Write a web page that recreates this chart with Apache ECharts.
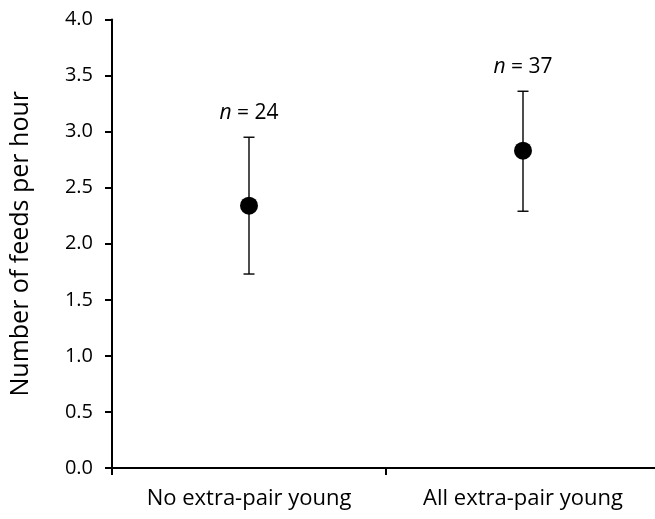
<!DOCTYPE html>
<head>
    <meta charset="utf-8">
    <title>ECharts</title>
    <style>
    html,body { height:100%; width:100%; margin:0; background:white; padding:0; }
    #main { width:655px; height:519px; }
    </style>
</head>
<body>
    <div id="main"></div>
    <script src="https://cdn.jsdelivr.net/npm/echarts@6/dist/echarts.min.js"></script>
    <script type="text/javascript">
    // data
    var categories = ['No extra-pair young', 'All extra-pair young'];
    var means = [2.34, 2.83];
    var lower = [1.73, 2.29];
    var upper = [2.95, 3.36];
    var sampleSizes = [24, 37];
    var yTicks = [0, 0.5, 1, 1.5, 2, 2.5, 3, 3.5, 4];

    var font = '"Open Sans", "Liberation Sans", sans-serif';

    var errData = [];
    for (var i = 0; i < categories.length; i++) {
        errData.push([i, lower[i], upper[i], sampleSizes[i]]);
    }

    var myChart = echarts.init(document.getElementById('main'));

    var option = {
        animation: false,
        grid: { left: 112, width: 548, top: 19.5, height: 448.5, outerBoundsMode: 'none' },
        xAxis: {
            type: 'category',
            data: categories,
            boundaryGap: true,
            axisLine: { lineStyle: { color: '#000', width: 2 } },
            axisTick: { show: true, length: 7, lineStyle: { color: '#000', width: 2 } },
            axisLabel: { color: '#000', fontSize: 22, fontFamily: font, margin: 20 }
        },
        yAxis: {
            type: 'value',
            min: yTicks[0],
            max: yTicks[yTicks.length - 1],
            interval: 0.5,
            name: 'Number of feeds per hour',
            nameLocation: 'middle',
            nameGap: 79,
            nameTextStyle: { color: '#000', fontSize: 25, fontFamily: font },
            splitLine: { show: false },
            axisLine: { show: true, lineStyle: { color: '#000', width: 2 } },
            axisTick: { show: true, length: 7, lineStyle: { color: '#000', width: 2 } },
            axisLabel: {
                color: '#000', fontSize: 20, fontFamily: font, margin: 19,
                formatter: function (v) { return v.toFixed(1); }
            }
        },
        series: [
            {
                type: 'custom',
                data: errData,
                renderItem: function (params, api) {
                    var x = api.coord([api.value(0), 0])[0];
                    var lo = api.coord([api.value(0), api.value(1)])[1];
                    var hi = api.coord([api.value(0), api.value(2)])[1];
                    var cap = 5.5;
                    var st = { stroke: '#000', lineWidth: 1.4 };
                    return {
                        type: 'group',
                        children: [
                            { type: 'line', shape: { x1: x, y1: lo, x2: x, y2: hi }, style: st },
                            { type: 'line', shape: { x1: x - cap, y1: lo, x2: x + cap, y2: lo }, style: st },
                            { type: 'line', shape: { x1: x - cap, y1: hi, x2: x + cap, y2: hi }, style: st },
                            {
                                type: 'text',
                                x: x,
                                y: hi - 24,
                                style: {
                                    text: '{i|n} = ' + api.value(3),
                                    align: 'center',
                                    verticalAlign: 'middle',
                                    fill: '#000',
                                    fontSize: 21,
                                    fontFamily: font,
                                    rich: { i: { fontStyle: 'italic', fontSize: 21, fontFamily: font, fill: '#000' } }
                                }
                            }
                        ]
                    };
                },
                z: 2
            },
            {
                type: 'scatter',
                data: means,
                symbol: 'circle',
                symbolSize: 18,
                itemStyle: { color: '#000', opacity: 1 },
                z: 3
            }
        ]
    };

    myChart.setOption(option);
    </script>
</body>
